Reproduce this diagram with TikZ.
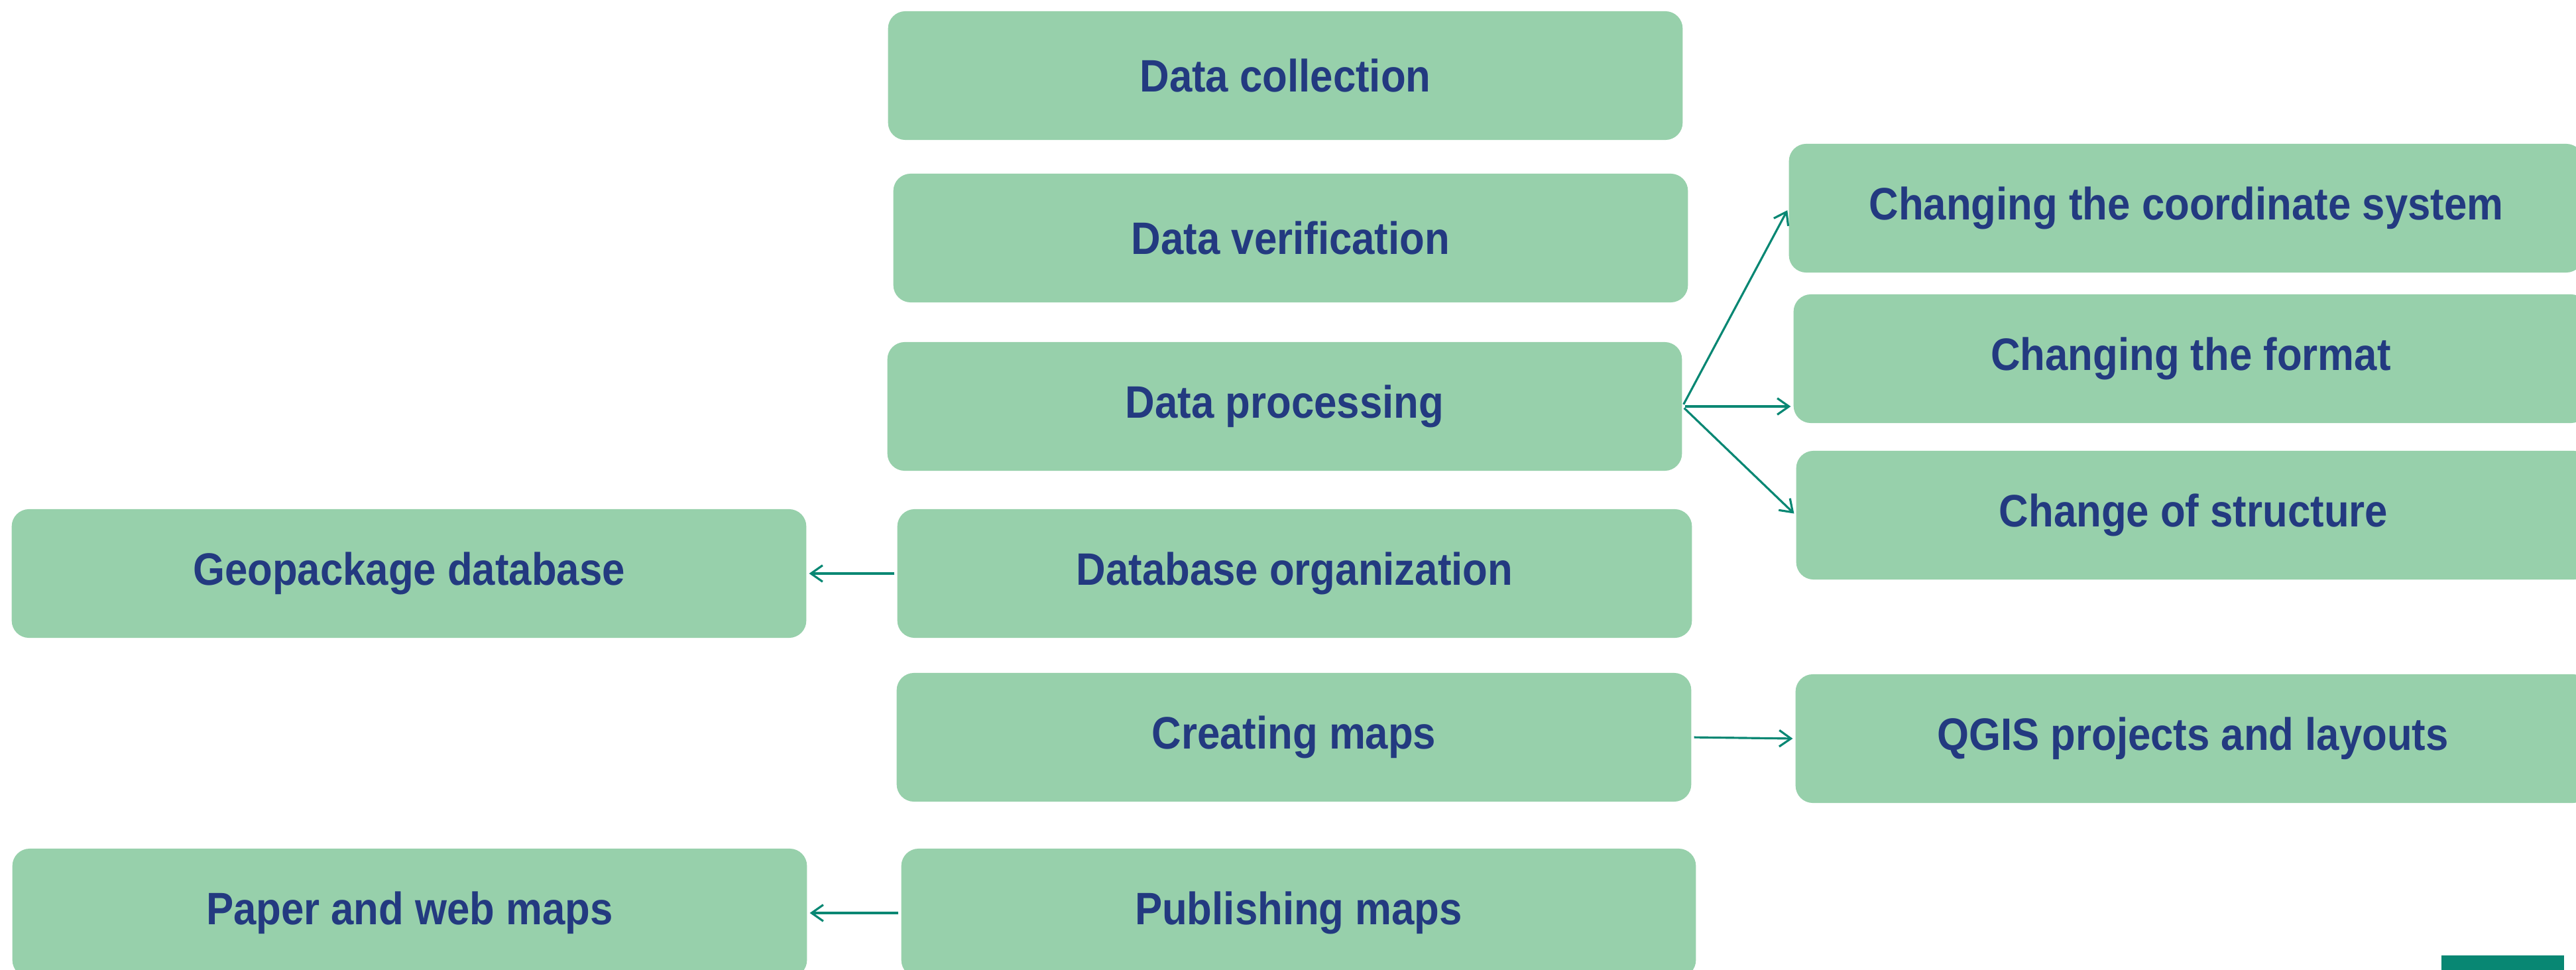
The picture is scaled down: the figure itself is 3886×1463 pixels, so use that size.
\documentclass[tikz,border=0pt]{standalone}
\usepackage{fontspec}
\setmainfont[FakeStretch=0.9]{Liberation Sans}
\usetikzlibrary{arrows.meta}
\definecolor{boxgreen}{RGB}{151,208,171}
\definecolor{navy}{RGB}{35,58,128}
\definecolor{darkteal}{RGB}{8,135,115}

\begin{document}
\begin{tikzpicture}[x=0.01cm,y=-0.01cm,
    stepbox/.style={rectangle,rounded corners=0.26cm,fill=boxgreen,
        minimum width=11.98cm,minimum height=1.94cm,inner sep=0pt,
        font=\fontsize{19.5}{23}\selectfont\bfseries,text=navy},
    link/.style={-{Straight Barb[length=5pt,width=7pt]},line width=0.9pt,
        darkteal,shorten >=1pt,shorten <=1pt}]

\useasboundingbox (0,0) rectangle (3886,1463);
\clip (0,0) rectangle (3886,1463);

% main steps
\node [stepbox] (collect) at (1939,114)  {Data collection};
\node [stepbox] (verify)  at (1947,359)  {Data verification};
\node [stepbox] (process) at (1938,613)  {Data processing};
\node [stepbox] (dborg)   at (1953,865)  {Database organization};
\node [stepbox] (maps)    at (1952,1112) {Creating maps};
\node [stepbox] (publish) at (1959,1377) {Publishing maps};

% results on the left
\node [stepbox] (geopkg) at (617,865)  {Geopackage database};
\node [stepbox] (paper)  at (618,1377) {Paper and web maps};

% results on the right
\node [stepbox] (crs)       at (3298,314)  {Changing the coordinate system};
\node [stepbox] (format)    at (3305,541)  {Changing the format};
\node [stepbox] (structure) at (3309,777)  {Change of structure};
\node [stepbox] (qgis)      at (3308,1114) {QGIS projects and layouts};

% arrows
\draw [link] (process.east) -- (crs.west);
\draw [link] (process.east) -- (format.west |- process.east);
\draw [link] (process.east) -- (structure.west);
\draw [link] (dborg.west) -- (geopkg.east);
\draw [link] (maps.east) -- (qgis.west);
\draw [link] (publish.west) -- (paper.east);

% corner mark
\fill [darkteal] (3683,1441) rectangle (3868,1470);

\end{tikzpicture}
\end{document}
